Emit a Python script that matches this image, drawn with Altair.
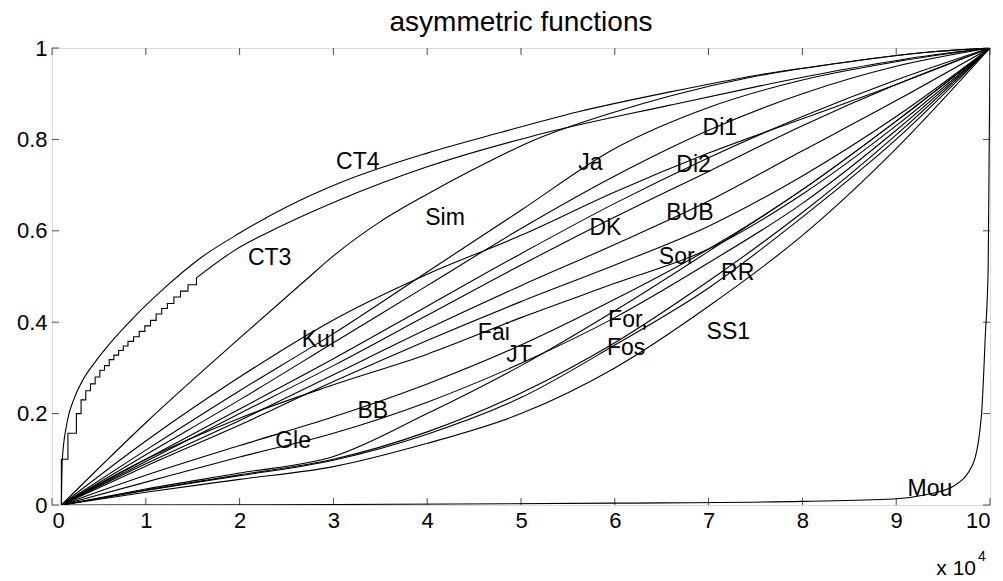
import altair as alt
import pandas as pd

# ---------------- data ----------------
GRID_X = [0.1, 1, 2, 3, 4, 5, 6, 7, 8, 9, 10]

ja_y   = [0, 0.12, 0.25, 0.375, 0.51, 0.645, 0.78, 0.87, 0.93, 0.97, 1]
kul_y  = [0, 0.14, 0.28, 0.405, 0.505, 0.59, 0.685, 0.77, 0.845, 0.92, 1]
di1_y  = [0, 0.11, 0.23, 0.355, 0.48, 0.605, 0.72, 0.82, 0.90, 0.96, 1]
di2_y  = [0, 0.10, 0.21, 0.32, 0.435, 0.55, 0.66, 0.76, 0.85, 0.93, 1]
dk_y   = [0, 0.095, 0.20, 0.305, 0.415, 0.525, 0.63, 0.73, 0.83, 0.92, 1]
bub_y  = [0, 0.09, 0.185, 0.285, 0.385, 0.48, 0.57, 0.665, 0.775, 0.885, 1]
sor_y  = [0, 0.085, 0.175, 0.27, 0.36, 0.445, 0.525, 0.61, 0.72, 0.85, 1]
fai_y  = [0, 0.10, 0.19, 0.263, 0.33, 0.41, 0.485, 0.56, 0.68, 0.83, 1]
bb_y   = [0, 0.065, 0.13, 0.193, 0.265, 0.35, 0.45, 0.56, 0.69, 0.84, 1]
gle_y  = [0, 0.05, 0.105, 0.157, 0.225, 0.31, 0.41, 0.53, 0.66, 0.82, 1]
jt_y   = [0, 0.035, 0.07, 0.106, 0.20, 0.305, 0.425, 0.555, 0.69, 0.84, 1]
for_y  = [0, 0.033, 0.066, 0.10, 0.16, 0.245, 0.355, 0.49, 0.64, 0.81, 1]
rr_y   = [0, 0.032, 0.064, 0.098, 0.155, 0.235, 0.35, 0.475, 0.63, 0.80, 1]
ss1_y  = [0, 0.028, 0.056, 0.084, 0.135, 0.20, 0.30, 0.435, 0.59, 0.78, 1]

ct4_x = [0.1, 0.11, 0.16, 0.24, 0.33, 0.45, 0.62, 0.87, 1.2, 1.58, 2.0, 2.5, 3.07, 4, 4.78, 5.6, 6.59, 7.5, 8.5, 9.3, 10]
ct4_y = [0, 0.1, 0.18, 0.235, 0.274, 0.31, 0.354, 0.41, 0.475, 0.54, 0.595, 0.652, 0.705, 0.77, 0.815, 0.86, 0.904, 0.94, 0.97, 0.99, 1]

ct3_step_x = [0.1, 0.1, 0.17, 0.26, 0.31, 0.36, 0.41, 0.46, 0.51, 0.56, 0.61, 0.66, 0.71, 0.76, 0.81,
              0.87, 0.93, 0.99, 1.05, 1.11, 1.17, 1.23, 1.30, 1.37, 1.45, 1.54]
ct3_step_y = [0, 0.10, 0.157, 0.20, 0.23, 0.25, 0.265, 0.28, 0.295, 0.305, 0.318, 0.328, 0.338, 0.348, 0.358,
              0.368, 0.38, 0.392, 0.404, 0.418, 0.43, 0.441, 0.455, 0.468, 0.482, 0.497]
ct3_x = [1.54, 1.93, 2.46, 3.07, 4, 5.1, 6.59, 7.5, 8.5, 9.3, 10]
ct3_y = [0.497, 0.555, 0.612, 0.668, 0.74, 0.806, 0.875, 0.915, 0.955, 0.982, 1]

sim_x = [0.1, 1, 2, 2.72, 3, 3.5, 4, 4.5, 5.1, 6, 6.59, 7.5, 8.5, 9.3, 10]
sim_y = [0, 0.18, 0.365, 0.495, 0.545, 0.62, 0.68, 0.735, 0.795, 0.86, 0.895, 0.938, 0.97, 0.99, 1]

mou_x = [0.1, 3, 6, 8, 8.97, 9.3, 9.6, 9.82, 9.91, 9.95, 9.98, 9.99, 10]
mou_y = [0, 0.001, 0.004, 0.008, 0.013, 0.022, 0.04, 0.091, 0.2, 0.37, 0.514, 0.75, 1]

label_names = ["CT4", "CT3", "Sim", "Kul", "Ja", "Di1", "Di2", "DK", "BUB", "Sor", "RR",
               "Fai", "For,", "Fos", "JT", "SS1", "BB", "Gle", "Mou"]
label_x = [3.26, 2.32, 4.19, 2.84, 5.74, 7.12, 6.84, 5.9, 6.8, 6.66, 7.31,
           4.71, 6.14, 6.12, 4.98, 7.21, 3.42, 2.57, 9.36]
label_y = [0.75, 0.54, 0.628, 0.361, 0.748, 0.825, 0.744, 0.606, 0.639, 0.543, 0.508,
           0.376, 0.405, 0.344, 0.328, 0.379, 0.206, 0.14, 0.035]

x_ticks = [0, 1, 2, 3, 4, 5, 6, 7, 8, 9, 10]
y_ticks = [0, 0.2, 0.4, 0.6, 0.8, 1]

# ---------------- tables ----------------
grid_series = {"Ja": ja_y, "Kul": kul_y, "Di1": di1_y, "Di2": di2_y, "DK": dk_y, "BUB": bub_y,
               "Sor": sor_y, "Fai": fai_y, "BB": bb_y, "Gle": gle_y, "JT": jt_y, "For": for_y,
               "RR": rr_y, "SS1": ss1_y}
rows = []
for name, ys in grid_series.items():
    for i, (xv, yv) in enumerate(zip(GRID_X, ys)):
        rows.append({"s": name, "x": xv, "y": yv, "o": i})
for name, xs_, ys_ in [("CT4", ct4_x, ct4_y), ("CT3", ct3_x, ct3_y), ("Sim", sim_x, sim_y), ("Mou", mou_x, mou_y)]:
    for i, (xv, yv) in enumerate(zip(xs_, ys_)):
        rows.append({"s": name, "x": xv, "y": yv, "o": i})
smooth = pd.DataFrame(rows)
steps = pd.DataFrame({"s": "CT3s", "x": ct3_step_x, "y": ct3_step_y, "o": list(range(len(ct3_step_x)))})
labels = pd.DataFrame({"t": label_names, "x": label_x, "y": label_y})

W, H = 938, 457
FONT = "Liberation Sans"

xs = alt.Scale(domain=[0, 10], nice=False)
ys = alt.Scale(domain=[0, 1], nice=False)

x_axis = alt.Axis(values=x_ticks, format="d", tickSize=0, domain=False, grid=False, labelFontSize=22,
                  labelPadding=5, labelColor="black", labelFont=FONT, title=None)
y_axis = alt.Axis(values=y_ticks, tickSize=0, domain=False, grid=False, labelFontSize=22,
                  labelPadding=5, labelColor="black", labelFont=FONT, title=None,
                  labelExpr="datum.value == 0 ? '0' : datum.value == 1 ? '1' : format(datum.value, '.1f')")

lines = alt.Chart(smooth).mark_line(color="black", strokeWidth=1.1, interpolate="monotone", clip=True).encode(
    x=alt.X("x:Q", scale=xs, axis=x_axis),
    y=alt.Y("y:Q", scale=ys, axis=y_axis),
    detail="s:N", order="o:Q")

stairs = alt.Chart(steps).mark_line(color="black", strokeWidth=1.1, interpolate="step-after").encode(
    x=alt.X("x:Q", scale=xs), y=alt.Y("y:Q", scale=ys), order="o:Q")

texts = alt.Chart(labels).mark_text(font=FONT, fontSize=23, color="black").encode(
    x=alt.X("x:Q", scale=xs), y=alt.Y("y:Q", scale=ys), text="t:N")

xt = pd.DataFrame({"v": x_ticks})
yt = pd.DataFrame({"v": y_ticks})
tick_bottom = alt.Chart(xt).mark_tick(orient="vertical", size=7, yOffset=-3.5, color="black", thickness=1).encode(
    x=alt.X("v:Q", scale=xs), y=alt.datum(0, scale=ys))
tick_top = alt.Chart(xt).mark_tick(orient="vertical", size=7, yOffset=3.5, color="black", thickness=1).encode(
    x=alt.X("v:Q", scale=xs), y=alt.datum(1, scale=ys))
tick_left = alt.Chart(yt).mark_tick(orient="horizontal", size=7, xOffset=3.5, color="black", thickness=1).encode(
    y=alt.Y("v:Q", scale=ys), x=alt.datum(0, scale=xs))
tick_right = alt.Chart(yt).mark_tick(orient="horizontal", size=7, xOffset=-3.5, color="black", thickness=1).encode(
    y=alt.Y("v:Q", scale=ys), x=alt.datum(10, scale=xs))

exp_df = pd.DataFrame({"t": ["x 10"], "x": [10], "y": [0]})
exp_main = alt.Chart(exp_df).mark_text(font=FONT, fontSize=21, color="black", align="right",
                                       baseline="alphabetic", dx=-14, dy=70).encode(
    x=alt.X("x:Q", scale=xs), y=alt.Y("y:Q", scale=ys), text="t:N")
sup_df = pd.DataFrame({"t": ["4"], "x": [10], "y": [0]})
exp_sup = alt.Chart(sup_df).mark_text(font=FONT, fontSize=14, color="black", align="left",
                                      baseline="alphabetic", dx=-12, dy=56).encode(
    x=alt.X("x:Q", scale=xs), y=alt.Y("y:Q", scale=ys), text="t:N")

chart = alt.layer(lines, stairs, texts, tick_bottom, tick_top, tick_left, tick_right, exp_main, exp_sup).properties(
    width=W, height=H,
    title=alt.TitleParams("asymmetric functions", fontSize=28, fontWeight="normal", font=FONT,
                          color="black", offset=0, anchor="middle"),
    autosize=alt.AutoSizeParams(type="none"),
    padding={"left": 52, "top": 48, "right": 13, "bottom": 76},
).configure_view(stroke="black", strokeWidth=1.2).configure(background="white")

chart.save("out.html", embed_options={"renderer": "svg", "actions": False})
